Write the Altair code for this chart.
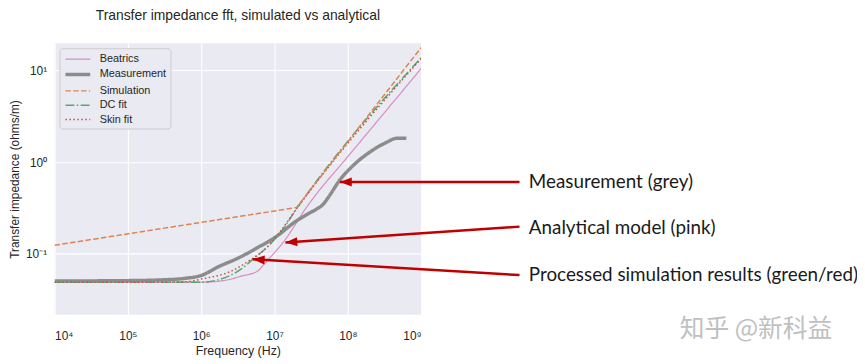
import altair as alt
import pandas as pd

TITLE = "Transfer impedance fft, simulated vs analytical"
X_TITLE = "Frequency (Hz)"
Y_TITLE = "Transfer impedance (ohms/m)"

SERIES = ["Beatrics", "Measurement", "Simulation", "DC fit", "Skin fit"]
COLORS = ["#da8bc3", "#8c8c8c", "#dd8452", "#55a868", "#c44e52"]
DASHES = [[1, 0], [1, 0], [5.5, 2.4], [9, 2.4, 1.5, 2.4], [1.5, 2.5]]
WIDTHS = [1.2, 3.5, 1.5, 1.5, 1.5]

# Beatrics (analytical model)
beatrics_f = [1e4, 1e5, 1e6, 2e6, 3.5e6, 5.9e6, 7.2e6, 1e7, 1.35e7, 1.86e7, 2.5e7, 3.5e7, 1e8, 1e9]
beatrics_z = [0.049, 0.049, 0.049, 0.051, 0.057, 0.065, 0.077, 0.103, 0.137, 0.20, 0.29, 0.42, 1.15, 10.5]

# Measurement
meas_f = [1e4, 1e5, 3e5, 6e5, 1e6, 1.7e6, 3.2e6, 5.9e6, 1.1e7, 1.86e7, 2.8e7, 3.8e7, 4.5e7,
          5.5e7, 7.8e7, 1.2e8, 2e8, 3.4e8, 4.6e8, 6.3e8]
meas_z = [0.0505, 0.051, 0.052, 0.054, 0.058, 0.072, 0.090, 0.117, 0.158, 0.22, 0.27, 0.31, 0.34,
          0.42, 0.64, 0.93, 1.29, 1.65, 1.82, 1.82]

# Simulation
sim_f = [1e4, 2e7, 1e9]
sim_z = [0.124, 0.32, 17.8]

# DC fit
dc_f = [1e4, 1e5, 1e6, 1.7e6, 3.5e6, 5.4e6, 8.1e6, 1.2e7, 2e7, 1e9]
dc_z = [0.049, 0.049, 0.049, 0.052, 0.068, 0.091, 0.12, 0.17, 0.31, 13.8]

# Skin fit
skin_f = [1e4, 1e5, 6e5, 1e6, 2.6e6, 4.8e6, 7.2e6, 1.1e7, 2e7, 1e9]
skin_z = [0.049, 0.049, 0.0495, 0.053, 0.065, 0.087, 0.11, 0.16, 0.31, 13.5]

# Annotations (positions in data units of the chart's log scales)
ann_labels = ["Measurement (grey)", "Analytical model (pink)", "Processed simulation results (green/red)"]
ann_tip_f = [7.8e7, 1.41e7, 5.05e6]
ann_tip_z = [0.608, 0.133, 0.0873]
ann_tail_f = [2.2e10, 2.2e10, 2.2e10]
ann_tail_z = [0.608, 0.198, 0.0586]
ann_text_f = [2.95e10, 2.95e10, 2.95e10]
ann_text_z = [0.608, 0.193, 0.0586]
ann_angle = [270, 266, 273.4]

WATERMARK = "知乎 @新科益"
wm_f = [3.7e13]
wm_z = [0.0152]

X_DOMAIN = [1e4, 1e9]
Y_DOMAIN = [0.02163, 19.82]
X_TICKS = [1e4, 1e5, 1e6, 1e7, 1e8, 1e9]
Y_TICKS = [0.1, 1, 10]

SUP = {-1: "⁻¹", 0: "⁰", 1: "¹", 2: "²", 3: "³", 4: "⁴", 5: "⁵", 6: "⁶", 7: "⁷", 8: "⁸", 9: "⁹"}
k = "round(log(datum.value)/LN10)"
label_expr = "'10' + (" + " : ".join(f"{k} == {e} ? '{s}'" for e, s in SUP.items()) + " : '')"

rows = []
for name, fs, zs in [("Beatrics", beatrics_f, beatrics_z), ("Measurement", meas_f, meas_z),
                     ("Simulation", sim_f, sim_z), ("DC fit", dc_f, dc_z), ("Skin fit", skin_f, skin_z)]:
    for i, (f, z) in enumerate(zip(fs, zs)):
        rows.append({"series": name, "freq": f, "z": z, "i": i})
df = pd.DataFrame(rows)

ann = pd.DataFrame({"label": ann_labels, "tip_f": ann_tip_f, "tip_z": ann_tip_z,
                    "tail_f": ann_tail_f, "tail_z": ann_tail_z,
                    "text_f": ann_text_f, "text_z": ann_text_z, "ang": ann_angle})
wm = pd.DataFrame({"label": [WATERMARK], "f": wm_f, "z": wm_z})

xs = alt.Scale(type="log", domain=X_DOMAIN, nice=False)
ys = alt.Scale(type="log", domain=Y_DOMAIN, nice=False)

X_AXIS = alt.Axis(values=X_TICKS, labelExpr=label_expr, labelPadding=16,
                  titleY=30, titleFontSize=12.5, labelFontSize=12)
Y_AXIS = alt.Axis(values=Y_TICKS, labelExpr=label_expr, labelPadding=8,
                  titleX=-33, titleFontSize=12, labelFontSize=12)


def X(field):
    return alt.X(field, scale=xs, title=X_TITLE, axis=X_AXIS)


def Y(field):
    return alt.Y(field, scale=ys, title=Y_TITLE, axis=Y_AXIS)


legend = alt.Legend(orient="none", legendX=5, legendY=5, title=None,
                    symbolType="M-2,0H2", symbolSize=156, symbolOffset=6.5,
                    labelFontSize=11, labelFont="Liberation Sans",
                    labelColor="#262626", padding=4, rowPadding=2.5, labelOffset=14,
                    fillColor="#eaeaf2", strokeColor="#cccccc", cornerRadius=3)

enc = dict(
    x=X("freq:Q"),
    y=Y("z:Q"),
    color=alt.Color("series:N", scale=alt.Scale(domain=SERIES, range=COLORS), legend=legend),
    strokeDash=alt.StrokeDash("series:N", scale=alt.Scale(domain=SERIES, range=DASHES), legend=legend),
    strokeWidth=alt.StrokeWidth("series:N", scale=alt.Scale(type="ordinal", domain=SERIES, range=WIDTHS),
                                legend=legend),
    order="i:Q",
    detail="series:N",
)

smooth = alt.Chart(df).transform_filter(alt.datum.series != "Simulation").mark_line(
    interpolate="monotone", clip=True).encode(**enc)
straight = alt.Chart(df).transform_filter(alt.datum.series == "Simulation").mark_line(
    interpolate="linear", clip=True).encode(**enc)

arrows = alt.Chart(ann).mark_rule(color="#c00000", strokeWidth=2.5).encode(
    x=X("tail_f:Q"), y=Y("tail_z:Q"), x2="tip_f:Q", y2="tip_z:Q")
heads = alt.Chart(ann).mark_point(shape="M0,0 L0.38,1 L-0.38,1 Z", filled=True, size=576,
                                  color="#c00000", opacity=1, strokeWidth=0).encode(
    x=X("tip_f:Q"), y=Y("tip_z:Q"), angle=alt.Angle("ang:Q", scale=None))
texts = alt.Chart(ann).mark_text(align="left", baseline="middle", font="Lato", fontSize=19,
                                 color="#1a1a1a").encode(
    x=X("text_f:Q"), y=Y("text_z:Q"), text="label:N")
water = alt.Chart(wm).mark_text(align="center", baseline="middle", font="Noto Sans CJK SC",
                                fontSize=25, color="#c0c0c0").encode(
    x=X("f:Q"), y=Y("z:Q"), text="label:N")

chart = alt.layer(smooth, straight, arrows, heads, texts, water).properties(
    width=370, height=274,
    title=alt.TitleParams(TITLE, fontSize=14, font="Liberation Sans", fontWeight="normal",
                          color="#262626", offset=21, anchor="middle"),
    autosize=alt.AutoSizeParams(type="none"),
    padding={"left": 47, "top": 34, "right": 440, "bottom": 42},
).configure_view(fill="#eaeaf2", stroke=None).configure_axis(
    domain=False, ticks=False, grid=True, gridColor="#ffffff", gridWidth=1.1,
    labelColor="#262626", titleColor="#262626", labelFont="Liberation Sans",
    titleFont="Liberation Sans", titleFontWeight="normal",
)

chart.save("out.html", embed_options={"renderer": "svg", "actions": False})
